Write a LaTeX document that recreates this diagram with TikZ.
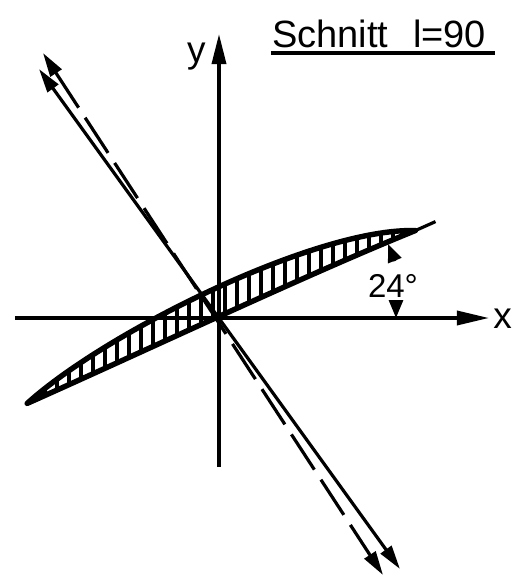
\documentclass[tikz,border=0pt]{standalone}
\usepackage{fontspec}
\setmainfont{Liberation Sans}
\usetikzlibrary{arrows.meta}
\begin{document}
\begin{tikzpicture}[x=1pt,y=1pt,
  axisline/.style={line width=3.4pt},
  diagline/.style={line width=3.2pt},
  dimline/.style={line width=3pt,-{Triangle[length=18pt,width=14pt]}},
  dtip/.style={{Triangle[length=24pt,width=13pt]}-{Triangle[length=24pt,width=13pt]}},
  lbl/.style={inner sep=0pt,font=\fontsize{37}{40}\selectfont},
  hatch/.style={line width=3.4pt},
  outline/.style={line width=5.4pt,line join=round}
]
\useasboundingbox (-219,-264) rectangle (306,318);
% axes
\coordinate (O) at (0,0);
\coordinate (xl) at (-204,0);
\coordinate (xr) at (270,0);
\coordinate (yb) at (0,-149);
\coordinate (yt) at (0,284);
\draw[axisline,-{Triangle[length=32pt,width=14pt]}] (xl) -- (xr);
\draw[axisline,-{Triangle[length=30pt,width=14pt]}] (yb) -- (yt);
% diagonal lines
\coordinate (s1) at (-180,249);
\coordinate (s2) at (181,-251);
\coordinate (d1) at (-176,265);
\coordinate (d2) at (164,-257);
\draw[diagline,dtip] (s1) -- (s2);
\draw[diagline,dtip,dash pattern=on 42pt off 12pt] (d1) -- (d2);
% blade hatching
\begin{scope}
\clip[rotate=24] (-210,0) .. controls (-110,33) and (125,43) .. (215,0) .. controls (100,4) and (-80,0) .. (-210,0) -- cycle;
\foreach \h in {-186,-174,...,198} \draw[hatch] (\h,-120) -- (\h,120);
\end{scope}
\draw[outline,rotate=24] (-210,0) .. controls (-110,33) and (125,43) .. (215,0) .. controls (100,4) and (-80,0) .. (-210,0) -- cycle;
\coordinate (bt) at (24:212);
\coordinate (be) at (24:237);
\draw[diagline] (bt) -- (be);
% angle dimension arrows
\coordinate (a1) at (177,18);
\coordinate (a1t) at (177,0);
\coordinate (a2) at (176,57);
\coordinate (a2t) at (169,74);
\draw[dimline] (a1) -- (a1t);
\draw[dimline] (a2) -- (a2t);
% labels
\node[lbl,anchor=base] (ylab) at (-22.5,256) {y};
\node[lbl,anchor=base] (xlab) at (283.5,-10) {x};
\node[inner sep=0pt,font=\fontsize{33}{36}\selectfont,anchor=base] (ang) at (174,21) {24°};
\node[lbl,font=\fontsize{38}{40}\selectfont,anchor=base west] (t1) at (53,271) {Schnitt};
\node[lbl,font=\fontsize{38}{40}\selectfont,anchor=base west] (t2) at (194,271) {l=90};
\coordinate (u1) at (52,265);
\coordinate (u2) at (276,265);
\draw[line width=3.2pt] (u1) -- (u2);
\end{tikzpicture}
\end{document}
